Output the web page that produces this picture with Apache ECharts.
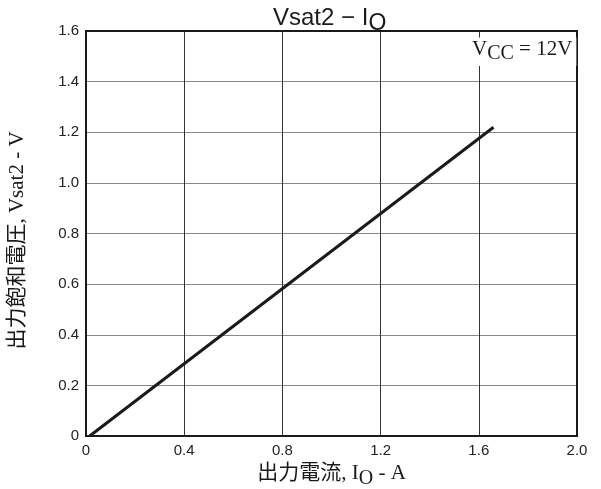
<!DOCTYPE html>
<html>
<head>
<meta charset="utf-8">
<script src="https://cdn.jsdelivr.net/npm/echarts@6/dist/echarts.min.js"></script>
<style>
  html, body { margin: 0; padding: 0; background: #fff; }
  #chart { width: 601px; height: 489px; }
</style>
</head>
<body>
<div id="chart"></div>
<script>
// Output saturation voltage vs. output current (VCC = 12 V)
const currentA = [0.015, 1.66];
const vsat2V = [0.0, 1.22];
const xTicks = [0, 0.4, 0.8, 1.2, 1.6, 2.0];
const yTicks = [0, 0.2, 0.4, 0.6, 0.8, 1.0, 1.2, 1.4, 1.6];

const serif = '"Liberation Serif", "Times New Roman", "Noto Sans CJK JP", serif';
const sans = '"Liberation Sans", Arial, sans-serif';
const ink = '#1a1a1a';

const fmt = v => (Math.abs(v) < 1e-9 ? '0' : v.toFixed(1));

const chart = echarts.init(document.getElementById('chart'), null, { renderer: 'canvas' });

chart.setOption({
  backgroundColor: '#fff',
  animation: false,
  title: [
    {
      text: 'Vsat2 \u2212 I{sub|O}',
      left: 268,
      top: -3,
      textStyle: {
        fontFamily: sans,
        fontSize: 24,
        fontWeight: 'normal',
        color: ink,
        rich: {
          sub: { fontFamily: sans, fontSize: 23, color: ink, padding: [10, 0, 0, 0] }
        }
      }
    },
    {
      text: 'V{sub|CC} = 12V',
      left: 470,
      top: 33,
      backgroundColor: '#fff',
      padding: [1, 4, 2, 2],
      textStyle: {
        fontFamily: serif,
        fontSize: 21,
        fontWeight: 'normal',
        color: ink,
        rich: {
          sub: { fontFamily: serif, fontSize: 20, color: ink, padding: [10, 0, 0, 0] }
        }
      }
    }
  ],
  grid: { left: 86, right: 24, top: 31, bottom: 53, containLabel: false, outerBoundsMode: 'none' },
  xAxis: {
    type: 'value',
    min: xTicks[0],
    max: xTicks[xTicks.length - 1],
    interval: 0.4,
    name: '出力電流, I{sub|O} - A',
    nameLocation: 'middle',
    nameGap: 22,
    nameTextStyle: {
      fontFamily: serif,
      fontSize: 21,
      color: ink,
      rich: { sub: { fontFamily: serif, fontSize: 20, color: ink, padding: [10, 0, 0, 0] } }
    },
    axisLine: { show: true, lineStyle: { color: ink, width: 2 } },
    axisTick: { show: false },
    axisLabel: {
      fontFamily: sans,
      fontSize: 15,
      color: '#222',
      margin: 7,
      formatter: fmt,
      customValues: xTicks
    },
    splitLine: { show: true, showMinLine: false, showMaxLine: false, lineStyle: { color: '#333', width: 1 } }
  },
  yAxis: {
    type: 'value',
    min: yTicks[0],
    max: yTicks[yTicks.length - 1],
    interval: 0.2,
    name: '出力飽和電圧, Vsat2 - V',
    nameLocation: 'middle',
    nameGap: 58,
    nameTextStyle: {
      fontFamily: serif,
      fontSize: 21,
      color: ink,
      padding: [0, 14, 0, 0]
    },
    axisLine: { show: true, lineStyle: { color: ink, width: 2 } },
    axisTick: { show: false },
    axisLabel: {
      fontFamily: sans,
      fontSize: 15,
      color: '#222',
      margin: 7,
      formatter: fmt
    },
    splitLine: { show: true, showMinLine: false, showMaxLine: false, lineStyle: { color: '#888', width: 1 } }
  },
  graphic: [
    {
      // top and right edges of the plot frame
      type: 'rect',
      shape: { x: 86, y: 31, width: 491, height: 405 },
      style: { fill: 'none', stroke: ink, lineWidth: 2 },
      silent: true,
      z: 1
    }
  ],
  series: [
    {
      type: 'line',
      data: currentA.map((x, i) => [x, vsat2V[i]]),
      showSymbol: false,
      lineStyle: { color: ink, width: 3 },
      z: 3
    }
  ]
});
</script>
</body>
</html>
